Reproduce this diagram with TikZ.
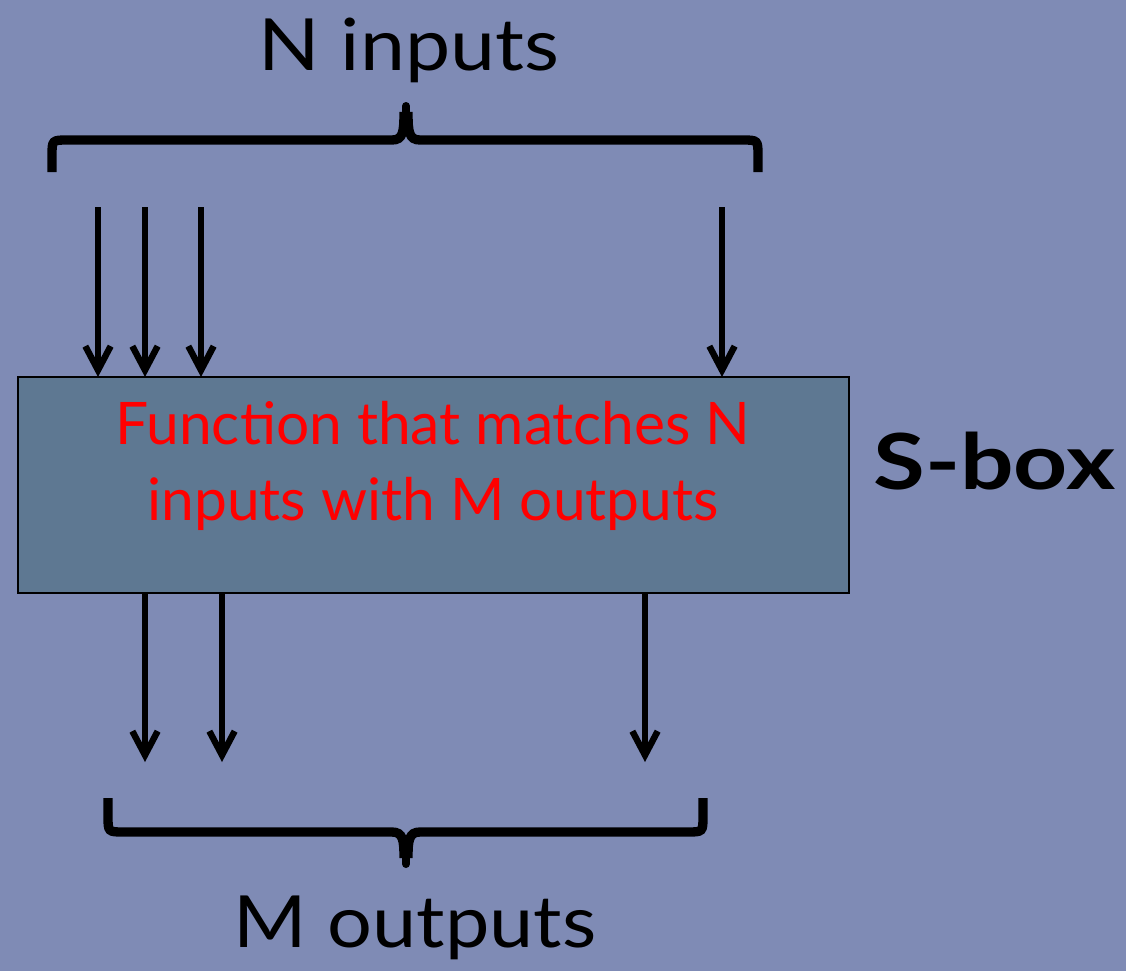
\documentclass[tikz,border=0pt]{standalone}
\usepackage{fontspec}
\setmainfont{Lato}
\usetikzlibrary{arrows.meta}
\definecolor{bgc}{RGB}{127,139,181}
\definecolor{boxc}{RGB}{94,120,146}
\definecolor{redc}{RGB}{255,0,0}
\begin{document}
\begin{tikzpicture}[x=0.75pt,y=-0.75pt,
  wire/.style={line width=4.8pt,-{Straight Barb[length=18pt,width=19pt,line width=4.8pt]}},
  brace/.style={line width=7pt,line cap=butt},
  lbl/.style={font=\fontsize{54}{60}\selectfont,inner sep=0pt}]
\useasboundingbox[fill=bgc] (0,0) rectangle (1126,971);
% box
\node[draw=black,line width=2pt,fill=boxc,minimum width=623.25pt,minimum height=162pt,inner sep=0pt,outer sep=0pt] (box) at (433.5,485) {};
\node[text=redc,align=center,font=\fontsize{44}{57}\selectfont,inner sep=0pt] (ftext) at (433,466) {Function that matches N\\inputs with M outputs};
\node[font=\fontsize{58}{64}\bfseries\selectfont,anchor=west,inner sep=0pt,xscale=1.22] (sbox) at (873,461) {S-box};
% labels
\node[lbl,xscale=1.12] (nin) at (409,50) {N inputs};
\node[lbl,xscale=1.1] (mout) at (415,928) {M outputs};
% input arrows
\foreach \n/\x in {i1/98,i2/145,i3/201,i4/722} {
  \coordinate (\n) at (\x,207);
  \draw[wire] (\n) -- (\n |- box.north);
}
% output arrows
\foreach \n/\x in {o1/145,o2/222,o3/645} {
  \coordinate (\n) at (\x,762);
  \draw[wire] (\n |- box.south) -- (\n);
}
% top brace
\coordinate (tl) at (52,172);
\coordinate (tr) at (758,172);
\coordinate (tt) at (406,106);
\draw[brace] (tl) -- (52,156) .. controls (52,140) .. (68,140) -- (392,140) .. controls (403,140) and (404,132) .. (404,112);
\draw[brace] (tr) -- (758,156) .. controls (758,140) .. (742,140) -- (420,140) .. controls (409,140) and (408,132) .. (408,112);
\draw[line width=6pt,line cap=round] (406,124) -- (tt);
% bottom brace
\coordinate (bl) at (108,798);
\coordinate (br) at (703,798);
\coordinate (bt) at (406,864);
\draw[brace] (bl) -- (108,816) .. controls (108,832) .. (124,832) -- (392,832) .. controls (403,832) and (404,840) .. (404,858);
\draw[brace] (br) -- (703,816) .. controls (703,832) .. (687,832) -- (420,832) .. controls (409,832) and (408,840) .. (408,858);
\draw[line width=6pt,line cap=round] (406,846) -- (bt);
\end{tikzpicture}
\end{document}
